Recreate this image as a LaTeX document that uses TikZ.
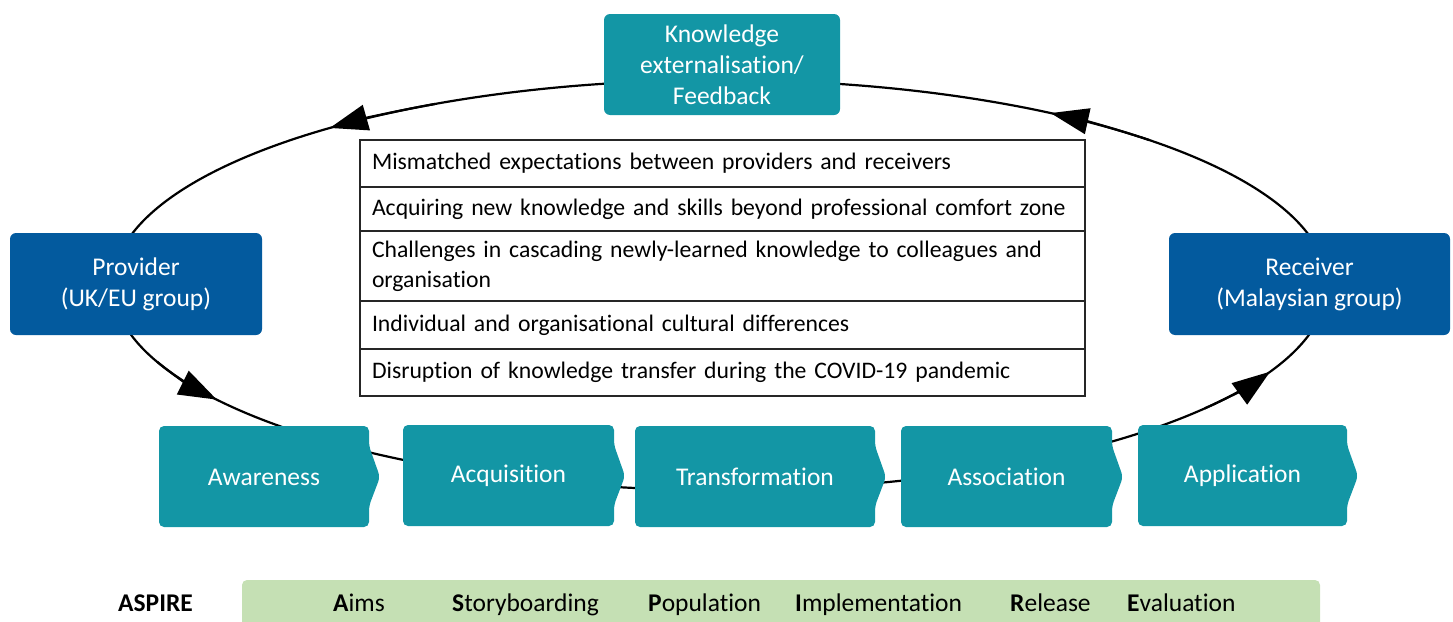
\documentclass[tikz,border=0pt]{standalone}
\usepackage{fontspec}
\setmainfont{Carlito}[Ligatures=NoCommon]
\usetikzlibrary{arrows.meta}
\definecolor{tealbox}{RGB}{19,150,165}
\definecolor{bluebox}{RGB}{3,90,158}
\definecolor{greenbar}{RGB}{197,224,180}
\newcommand\chevshape[3]{%
  \fill[tealbox, rounded corners=5pt] (#1,-#2) -- (#1+#3,-#2) -- (#1+#3,-#2-20) -- (#1+#3+11,-#2-51) -- (#1+#3,-#2-80) -- (#1+#3,-#2-101) -- (#1,-#2-101) -- cycle;}
\begin{document}
\begin{tikzpicture}[x=1pt,y=1pt,
  every node/.style={font=\fontsize{25.5}{31}\selectfont},
  provbox/.style={fill=bluebox, rounded corners=6pt, text=white, align=center, minimum height=102pt, inner sep=0pt},
  topbox/.style={fill=tealbox, rounded corners=6pt, text=white, align=center, minimum width=236pt, minimum height=101pt, inner sep=0pt},
  rowbox/.style={draw=black!85, line width=1.5pt, minimum width=725pt, text width=701pt, align=left, inner xsep=12pt, inner ysep=0pt, font=\fontsize{23.7}{30}\selectfont},
  chevlabel/.style={text=white, inner sep=0pt},
  barword/.style={anchor=base west, inner sep=0pt, text=black},
  cyc/.style={line width=2.2pt, black},
  tipcyc/.style={cyc, -{Triangle[length=38pt,width=26pt]}},
]
\useasboundingbox (0,0) rectangle (1453,-621);
% cycle ellipse
\coordinate (c) at (720,-285);
\draw[cyc] (c) ellipse [x radius=607, y radius=205];
\draw[tipcyc] (c) ++(45:607 and 205) arc[start angle=45, end angle=57, x radius=607, y radius=205];
\draw[tipcyc] (c) ++(118:607 and 205) arc[start angle=118, end angle=130, x radius=607, y radius=205];
\draw[tipcyc] (c) ++(202:607 and 205) arc[start angle=202, end angle=214, x radius=607, y radius=205];
\draw[tipcyc] (c) ++(323:607 and 205) arc[start angle=323, end angle=335, x radius=607, y radius=205];
% top box
\node[topbox] (fb) at (722,-64.5) {Knowledge\\externalisation/\\Feedback};
% side boxes
\node[provbox, minimum width=252pt] (prov) at (136,-284) {Provider\\(UK/EU group)};
\node[provbox, minimum width=281pt] (recv) at (1309.5,-284) {Receiver\\(Malaysian group)};
% table
\node[rowbox, minimum height=47pt] (r1) at (722.5,-163.5) {Mismatched expectations between providers and receivers};
\node[rowbox, minimum height=44pt] (r2) at (722.5,-209) {Acquiring new knowledge and skills beyond professional comfort zone};
\node[rowbox, minimum height=70pt] (r3) at (722.5,-266) {Challenges in cascading newly-learned knowledge to colleagues and\\organisation};
\node[rowbox, minimum height=48pt] (r4) at (722.5,-325) {Individual and organisational cultural differences};
\node[rowbox, minimum height=47pt] (r5) at (722.5,-372.5) {Disruption of knowledge transfer during the COVID-19 pandemic};
% chevrons
\chevshape{159}{426}{210}
\node[chevlabel] (aw) at (264,-477) {Awareness};
\chevshape{403}{425}{211}
\node[chevlabel] (aq) at (508.5,-476) {Acquisition};
\chevshape{635}{426}{240}
\node[chevlabel] (tr) at (755,-477) {Transformation};
\chevshape{901}{426}{211}
\node[chevlabel] (as) at (1006.5,-477) {Association};
\chevshape{1138}{425}{209}
\node[chevlabel] (ap) at (1242.5,-476) {Application};
% ASPIRE bar
\fill[greenbar, rounded corners=5pt] (242,-580) rectangle (1320,-640);
\node[barword] (aspire) at (118,-611) {\textbf{ASPIRE}};
\node[barword] (aims) at (333,-611) {\textbf{A}ims};
\node[barword] (story) at (452,-611) {\textbf{S}toryboarding};
\node[barword] (pop) at (648,-611) {\textbf{P}opulation};
\node[barword] (impl) at (795,-611) {\textbf{I}mplementation};
\node[barword] (rel) at (1010,-611) {\textbf{R}elease};
\node[barword] (eval) at (1127,-611) {\textbf{E}valuation};
\end{tikzpicture}
\end{document}
